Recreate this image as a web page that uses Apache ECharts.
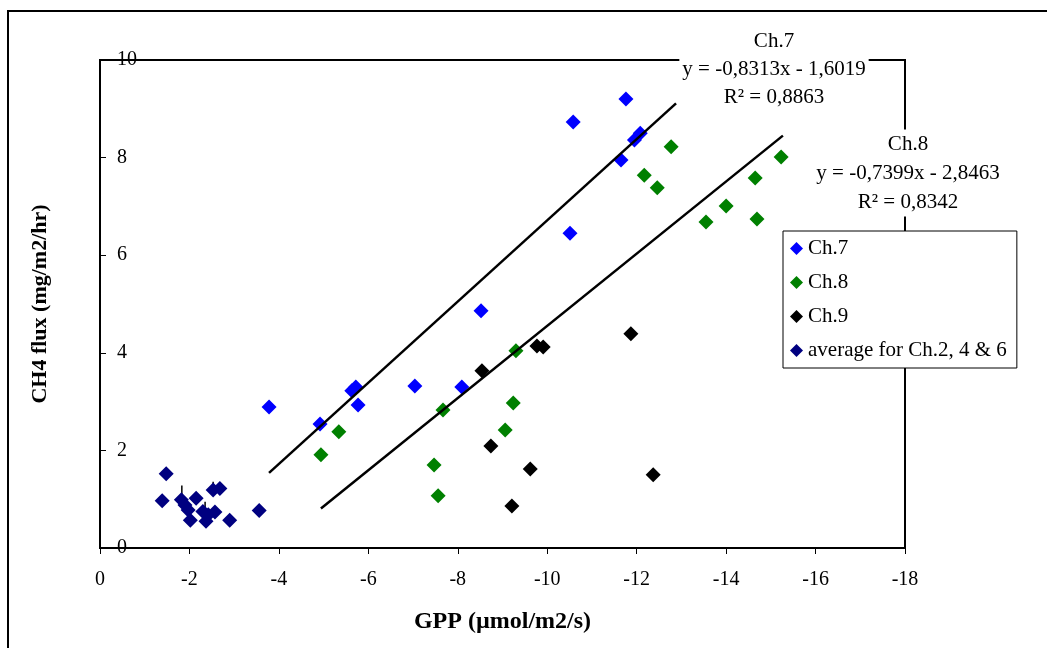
<!DOCTYPE html>
<html>
<head>
<meta charset="utf-8">
<script src="https://cdn.jsdelivr.net/npm/echarts@6/dist/echarts.min.js"></script>
<style>html,body{margin:0;padding:0;background:#fff;}#c{width:1047px;height:648px;}</style>
</head>
<body>
<div id="c"></div>
<script>
// ---- data ----
const ch7 = [[-3.78,2.89],[-4.92,2.54],[-5.63,3.22],[-5.72,3.30],[-5.77,2.93],[-7.04,3.32],[-8.09,3.30],[-8.52,4.86],[-10.51,6.45],[-10.58,8.73],[-11.76,9.20],[-11.65,7.95],[-11.95,8.36],[-12.08,8.50]];
const ch8 = [[-4.94,1.91],[-5.34,2.38],[-7.47,1.70],[-7.56,1.07],[-7.67,2.83],[-9.06,2.42],[-9.24,2.97],[-9.30,4.04],[-12.17,7.64],[-12.46,7.38],[-12.77,8.22],[-13.55,6.68],[-14.00,7.01],[-14.65,7.58],[-14.69,6.74],[-15.23,8.01]];
const ch9 = [[-8.54,3.63],[-9.77,4.14],[-9.91,4.12],[-11.87,4.39],[-8.74,2.09],[-9.62,1.62],[-12.37,1.50],[-9.21,0.86]];
const avg = [[-1.39,0.97],[-1.48,1.52],[-1.82,0.99],[-1.90,0.88],[-1.97,0.78],[-2.02,0.57],[-2.15,1.02],[-2.30,0.75],[-2.37,0.55],[-2.42,0.68],[-2.53,1.19],[-2.68,1.22],[-2.57,0.74],[-2.90,0.57],[-3.56,0.77]];
const avgErr = [[-1.83,0.98,1.28],[-2.53,1.19,1.36],[-2.35,0.74,0.95]];
const trend7 = [[-3.78,1.54],[-12.88,9.11]];
const trend8 = [[-4.94,0.81],[-15.27,8.45]];
const seriesNames = ['Ch.7','Ch.8','Ch.9','average for Ch.2, 4 & 6'];
const seriesColors = ['#0000ff','#008000','#000000','#000080'];
const note7 = 'Ch.7\ny = -0,8313x - 1,6019\nR² = 0,8863';
const note8 = 'Ch.8\ny = -0,7399x - 2,8463\nR² = 0,8342';

const FONT = 'Liberation Serif';
const chart = echarts.init(document.getElementById('c'), null, {renderer:'canvas'});
const scatterData = [ch7, ch8, ch9, avg];
const series = scatterData.map((d,i)=>({
  name: seriesNames[i], type:'scatter', data:d, symbol:'diamond', symbolSize:15,
  itemStyle:{color:seriesColors[i], opacity:1}, z:3
}));
series.push({
  type:'custom', name:'err', data:avgErr, z:2, silent:true,
  renderItem:function(params, api){
    const p1 = api.coord([api.value(0), api.value(1)]);
    const p2 = api.coord([api.value(0), api.value(2)]);
    return {type:'line', shape:{x1:p1[0],y1:p1[1],x2:p2[0],y2:p2[1]}, style:{stroke:'#000', lineWidth:1.5}};
  },
  encode:{x:0, y:[1,2]}
});
[trend7, trend8].forEach(t=>series.push({
  type:'line', data:t, symbol:'none', lineStyle:{color:'#000', width:2.5}, z:4, silent:true
}));

chart.setOption({
  animation:false,
  backgroundColor:'#fff',
  textStyle:{fontFamily:FONT},
  grid:{left:100, top:60, width:805, height:488, show:true, borderColor:'#000', borderWidth:2, containLabel:false},
  xAxis:{
    type:'value', min:-18, max:0, interval:2, inverse:true,
    axisLine:{show:true, onZero:false, lineStyle:{color:'#000', width:2}},
    axisTick:{show:true, inside:false, length:6, lineStyle:{color:'#000', width:1}},
    splitLine:{show:false},
    axisLabel:{color:'#000', fontSize:20, fontFamily:FONT, margin:22},
    name:'GPP (µmol/m2/s)', nameLocation:'middle', nameGap:62,
    nameTextStyle:{color:'#000', fontSize:24, fontWeight:'bold', fontFamily:FONT}
  },
  yAxis:{
    type:'value', min:0, max:10, interval:2,
    axisLine:{show:true, onZero:false, lineStyle:{color:'#000', width:2}},
    axisTick:{show:true, inside:true, length:6, lineStyle:{color:'#000', width:1}},
    splitLine:{show:false},
    axisLabel:{inside:true, color:'#000', fontSize:20, fontFamily:FONT, margin:17},
    name:'CH4 flux (mg/m2/hr)', nameLocation:'middle', nameGap:49, nameRotate:90,
    nameTextStyle:{color:'#000', fontSize:22, fontWeight:'bold', fontFamily:FONT}
  },
  legend:{
    data:seriesNames, orient:'vertical', left:783, top:231,
    backgroundColor:'#fff', borderColor:'#000', borderWidth:1,
    padding:[7,10,7,7], itemGap:13, itemWidth:13, itemHeight:13,
    icon:'diamond', align:'left',
    textStyle:{color:'#000', fontSize:21, fontFamily:FONT, lineHeight:21},
    z:50
  },
  graphic:[
    {type:'rect', shape:{x:8, y:11, width:1200, height:800}, style:{fill:'none', stroke:'#000', lineWidth:2}, z:100, silent:true},
    {type:'text', x:774, y:69, z:60, style:{text:note7, font:'21px "Liberation Serif"', fill:'#000', textAlign:'center', textVerticalAlign:'middle', lineHeight:28, backgroundColor:'#fff', padding:[0,3]}},
    {type:'text', x:908, y:173, z:60, style:{text:note8, font:'21px "Liberation Serif"', fill:'#000', textAlign:'center', textVerticalAlign:'middle', lineHeight:29, backgroundColor:'#fff', padding:[0,3]}}
  ],
  series:series
});
</script>
</body>
</html>
